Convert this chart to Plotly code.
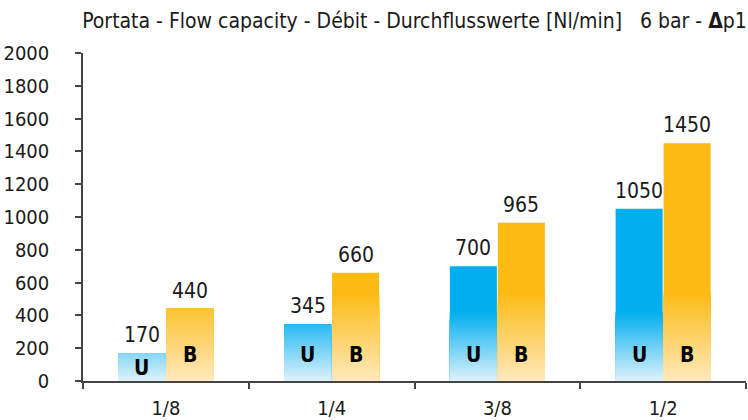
import plotly.graph_objects as go

# Flow capacity per port size, 6 bar, two valve versions
sizes = ["1/8", "1/4", "3/8", "1/2"]
flow_u = [170, 345, 700, 1050]
flow_b = [440, 660, 965, 1450]
series_names = ["U", "B"]
y_ticks = [0, 200, 400, 600, 800, 1000, 1200, 1400, 1600, 1800, 2000]

FONT = "DejaVu Sans Condensed, DejaVu Sans, sans-serif"
TXT = "#1a1a1a"
AXIS = "#444444"

BAR_W = 0.2836
GAP = 0.003
N_LAYERS = 40

# (values, bar offset, solid colour, pale colour, height over which the fade runs)
styles = [
    (flow_u, -BAR_W - GAP, (0, 174, 239), (222, 242, 251), 420.0),
    (flow_b, GAP, (252, 186, 18), (255, 233, 190), 540.0),
]


def mix(c_lo, c_hi, t):
    t = max(0.0, min(1.0, t))
    return "rgb({},{},{})".format(*[round(a + (b - a) * t) for a, b in zip(c_lo, c_hi)])


fig = go.Figure()

for values, offset, solid, pale, span in styles:
    # full bar in the solid colour
    fig.add_trace(go.Bar(
        x=sizes, y=values, offset=offset, width=BAR_W,
        marker=dict(color=mix(pale, solid, 1.0), line=dict(width=0)),
        hoverinfo="skip", showlegend=False,
    ))
    # ever shorter and paler bars laid over the base give the fade towards zero
    for k in range(N_LAYERS):
        top = span * (N_LAYERS - k) / N_LAYERS
        fig.add_trace(go.Bar(
            x=sizes, y=[min(v, top) for v in values], offset=offset, width=BAR_W,
            marker=dict(color=mix(pale, solid, (N_LAYERS - k - 0.5) / N_LAYERS), line=dict(width=0)),
            hoverinfo="skip", showlegend=False,
        ))

annotations = []
for (values, offset, _, _, _), name in zip(styles, series_names):
    for i, v in enumerate(values):
        xc = i + offset + BAR_W / 2
        annotations.append(dict(
            x=xc, y=v, xref="x", yref="y", text=str(v), showarrow=False,
            yanchor="bottom", yshift=4, font=dict(family=FONT, size=21, color=TXT),
        ))
        annotations.append(dict(
            x=xc, y=min(v * 0.47, 160), xref="x", yref="y", text="<b>%s</b>" % name,
            showarrow=False, yanchor="middle", font=dict(family=FONT, size=21, color="#000000"),
        ))

fig.update_layout(
    width=748, height=420,
    margin=dict(l=83, r=2, t=53, b=39),
    paper_bgcolor="white", plot_bgcolor="white",
    barmode="overlay",
    showlegend=False,
    title=dict(
        text="Portata - Flow capacity - Débit - Durchflusswerte [Nl/min]   6 bar - <b>Δ</b>p1",
        x=0.5, xref="paper", y=1 - 21 / 420, yref="container", yanchor="middle",
        font=dict(family=FONT, size=21, color=TXT),
    ),
    annotations=annotations,
    xaxis=dict(
        type="category", categoryorder="array", categoryarray=sizes,
        range=[-0.5, 3.5], showgrid=False, zeroline=False, automargin=False,
        showline=True, linecolor=AXIS, linewidth=2,
        ticks="outside", tickson="boundaries", ticklen=6, tickcolor=AXIS, tickwidth=1.5,
        ticklabelstandoff=8,
        tickfont=dict(family=FONT, size=20, color=TXT),
    ),
    yaxis=dict(
        range=[0, 2000], tickvals=y_ticks, showgrid=False, zeroline=False, automargin=False,
        showline=True, linecolor=AXIS, linewidth=1.5,
        ticks="outside", ticklen=6, tickcolor=AXIS, tickwidth=1.5,
        ticklabelstandoff=22,
        tickfont=dict(family=FONT, size=20, color=TXT),
    ),
)

fig.write_html("out.html")
